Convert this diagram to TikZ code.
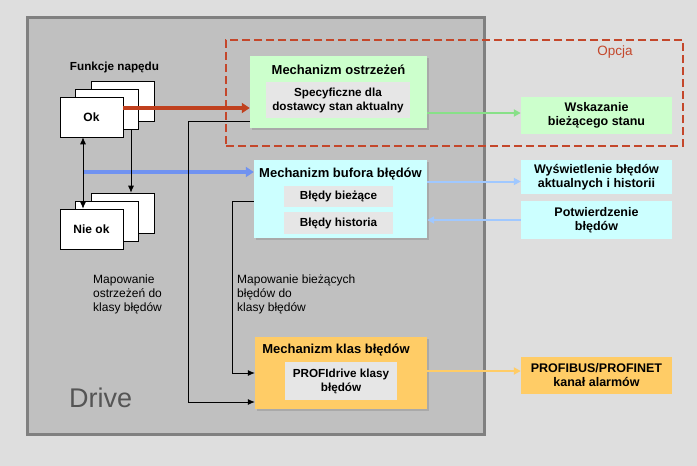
\documentclass[tikz,border=0pt]{standalone}
\usepackage{fontspec}
\setmainfont{Liberation Sans}
\usetikzlibrary{arrows.meta,shadows}

\definecolor{bggray}{HTML}{DEDEDE}
\definecolor{drivegray}{HTML}{C0C0C0}
\definecolor{framegray}{HTML}{808080}
\definecolor{drivetext}{HTML}{555555}
\definecolor{optred}{HTML}{C4472B}
\definecolor{mgreen}{HTML}{CCFFCC}
\definecolor{mcyan}{HTML}{CCFFFF}
\definecolor{morange}{HTML}{FFCC66}
\definecolor{innergray}{HTML}{E6E6E6}
\definecolor{redarr}{HTML}{C0401E}
\definecolor{bluearr}{HTML}{7092F0}
\definecolor{greenarr}{HTML}{88E088}
\definecolor{lbluearr}{HTML}{A0C8FF}

\begin{document}
\begin{tikzpicture}[x=1pt,y=-1pt,
  mechbox/.style={fill=#1,draw=none,inner sep=0pt,
    drop shadow={shadow xshift=1.5pt,shadow yshift=-1.5pt,opacity=0.35}},
  outbox/.style={fill=#1,draw=none,inner sep=0pt,align=center,
    minimum width=151pt,font=\fontsize{12.5}{14}\selectfont\bfseries},
  innerbox/.style={fill=innergray,draw=none,inner sep=0pt,align=center,
    font=\fontsize{11.7}{14}\selectfont\bfseries},
  titletext/.style={inner sep=0pt,font=\fontsize{13}{15}\selectfont\bfseries},
  stackbox/.style={draw=black,fill=white,line width=0.6pt,inner sep=0pt,
    minimum width=63pt,minimum height=40pt,font=\fontsize{12}{14}\selectfont\bfseries},
  maptext/.style={inner sep=0pt,align=left,anchor=north west,
    font=\fontsize{12}{14}\selectfont},
  blk/.style={black,line width=0.8pt,>={Latex[length=7pt,width=6pt]}},
  colline/.style={#1,line width=2pt,>={Triangle[length=7pt,width=7pt]}},
  thickline/.style={#1,line width=3.5pt,>={Triangle[length=8pt,width=10pt]}}]

\fill[bggray] (0,0) rectangle (697,466);

% drive and option frame
\node[fill=drivegray,draw=framegray,line width=3pt,inner sep=0pt,
  minimum width=457pt,minimum height=417pt] (drive) at (255.5,225.5) {};
\node[draw=optred,line width=2pt,dash pattern=on 8pt off 4pt,inner sep=0pt,
  minimum width=457pt,minimum height=106pt] (opt) at (454.5,93) {};
\node[text=optred,inner sep=0pt,font=\fontsize{13.5}{15}\selectfont] (optlbl) at (615,52) {Opcja};
\node[font=\fontsize{27}{30}\selectfont,text=drivetext,anchor=west,inner sep=0pt] (drivelbl) at (69,398) {Drive};

% drive functions
\node[titletext,font=\fontsize{11.7}{14}\selectfont\bfseries] (funk) at (114.5,67) {Funkcje napędu};
\node[stackbox] (okC) at (123,101) {};
\node[stackbox] (okB) at (107,109) {};
\node[stackbox] (ok) at (91.5,117) {Ok};
\node[stackbox] (nieokC) at (123,213) {};
\node[stackbox] (nieokB) at (107,221) {};
\node[stackbox] (nieok) at (91.5,229) {Nie ok};

% mechanisms
\node[mechbox=mgreen,minimum width=177pt,minimum height=72pt] (ostrz) at (338.5,92) {};
\node[titletext] (ostrzT) at (338.5,70) {Mechanizm ostrzeżeń};
\node[innerbox,minimum width=144pt,minimum height=36pt] (spec) at (338,100) {Specyficzne dla\\dostawcy stan aktualny};

\node[mechbox=mcyan,minimum width=173pt,minimum height=78pt] (bufora) at (340.5,199) {};
\node[titletext] (buforaT) at (340.5,174) {Mechanizm bufora błędów};
\node[innerbox,minimum width=109pt,minimum height=21pt] (biez) at (338.5,196.5) {Błędy bieżące};
\node[innerbox,minimum width=109pt,minimum height=22pt] (hist) at (338.5,223) {Błędy historia};

\node[mechbox=morange,minimum width=172pt,minimum height=72pt] (klas) at (341,373) {};
\node[titletext] (klasT) at (336,350) {Mechanizm klas błędów};
\node[innerbox,minimum width=112pt,minimum height=38pt] (profid) at (341,381) {PROFIdrive klasy\\błędów};

% outputs
\node[outbox=mgreen,minimum height=37pt] (wskaz) at (596.5,115.5) {Wskazanie\\bieżącego stanu};
\node[outbox=mcyan,minimum height=34pt] (wysw) at (596.5,177) {Wyświetlenie błędów\\aktualnych i historii};
\node[outbox=mcyan,minimum height=38pt] (potw) at (596.5,220) {Potwierdzenie\\błędów};
\node[outbox=morange,minimum height=37pt] (profib) at (596.5,375.5) {PROFIBUS/PROFINET\\kanał alarmów};

% mapping labels
\node[maptext] (mapO) at (93,275) {Mapowanie\\ostrzeżeń do\\klasy błędów};
\node[maptext] (mapB) at (237,275) {Mapowanie bieżących\\błędów do\\klasy błędów};

% connectors
\coordinate (bstart) at (83,172);
\draw[thickline=bluearr,->] (bstart) -- ([yshift=27pt]bufora.west);
\draw[thickline=redarr,->] ([yshift=9pt]ok.east) -- ([yshift=-16pt]ostrz.west);
\draw[blk,<->] ([xshift=-8.5pt]ok.south) -- ([xshift=-8.5pt]nieok.north);
\draw[blk,->] ([xshift=24pt]okB.south) -- ([xshift=8pt]nieokC.north);
\draw[blk,->] ([yshift=-29pt]ostrz.west) -- ++(-61,0) |- ([yshift=-29pt]klas.west);
\draw[blk,->] ([yshift=-2pt]bufora.west) -- ++(-21,0) |- (klas.west);
\draw[colline=greenarr,->] ([yshift=-21pt]ostrz.east) -- ([yshift=2.5pt]wskaz.west);
\draw[colline=lbluearr,->] ([yshift=17.5pt]bufora.east) -- ([yshift=-4.5pt]wysw.west);
\draw[colline=lbluearr,->] (potw.west) -- ([yshift=-21pt]bufora.east);
\draw[colline=morange,->] ([yshift=2pt]klas.east) -- ([yshift=4.5pt]profib.west);
\end{tikzpicture}
\end{document}
